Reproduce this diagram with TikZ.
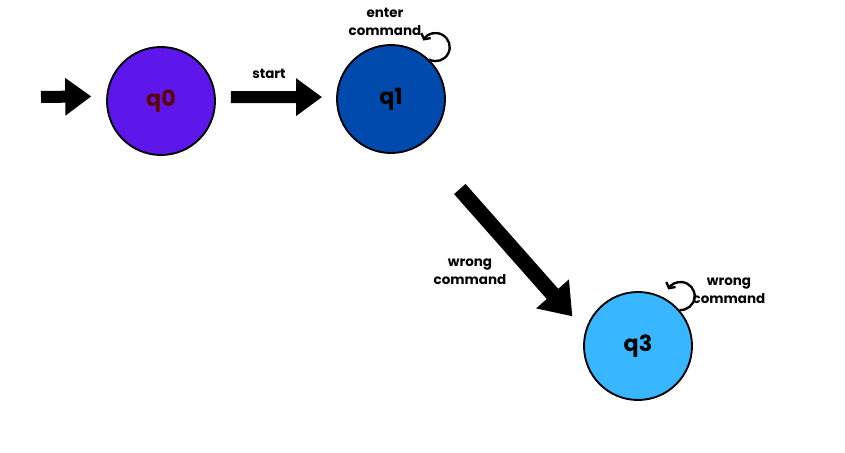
\documentclass[tikz,border=0pt]{standalone}
\usepackage{fontspec}
\setmainfont{Poppins}
\usetikzlibrary{arrows.meta,positioning,calc}
\definecolor{stpurple}{HTML}{5E17EB}
\definecolor{stblue}{HTML}{004AAD}
\definecolor{stsky}{HTML}{38B6FF}
\definecolor{maroon}{HTML}{5C0606}
\tikzset{
  statenode/.style={circle,draw=black,line width=1.6pt,minimum size=3.24cm,
                    inner sep=0pt,font=\fontsize{19}{21}\selectfont\bfseries},
  bigarr/.style={-{Triangle[length=0.78cm,width=1.08cm]},line width=0.36cm},
  diagarr/.style={-{Triangle[length=0.9cm,width=1.25cm]},line width=0.46cm},
  loopar/.style={-{Straight Barb[length=3.5pt,width=9pt]},line width=2pt},
  lbl/.style={align=center,font=\fontsize{11.5}{15.5}\selectfont\bfseries}
}
\begin{document}
\begin{tikzpicture}[x=0.03cm,y=-0.03cm]
  \useasboundingbox (0,0) rectangle (845,453);
  % states
  \node[statenode,fill=stpurple,text=maroon] (q0) at (161,101) {q0};
  \node[statenode,fill=stblue] (q1) at (391,99) {q1};
  \node[statenode,fill=stsky] (q3) at (638,346) {q3};
  % initial arrow
  \coordinate (init) at (41,97);
  \draw[bigarr,shorten >=0.45cm] (init) -- (q0.175);
  % transitions
  \draw[bigarr,shorten <=0.45cm,shorten >=0.42cm] (q0.4) -- (q1.178);
  \node[lbl] (startlbl) at (269,74) {start};
  \draw[diagarr,shorten <=1.76cm,shorten >=0.58cm] (q1.-57) -- (q3.164);
  \node[lbl] (wronglbl) at (470,272) {wrong\\command};
  % self loops
  \draw[loopar] (q1.46) arc[start angle=118,end angle=-152,radius=14];
  \node[lbl] (enterlbl) at (385,22) {enter\\command};
  \draw[loopar] (q3.41) arc[start angle=95,end angle=-152,radius=14];
  \node[lbl] (loop3lbl) at (729,291) {wrong\\command};
\end{tikzpicture}
\end{document}
